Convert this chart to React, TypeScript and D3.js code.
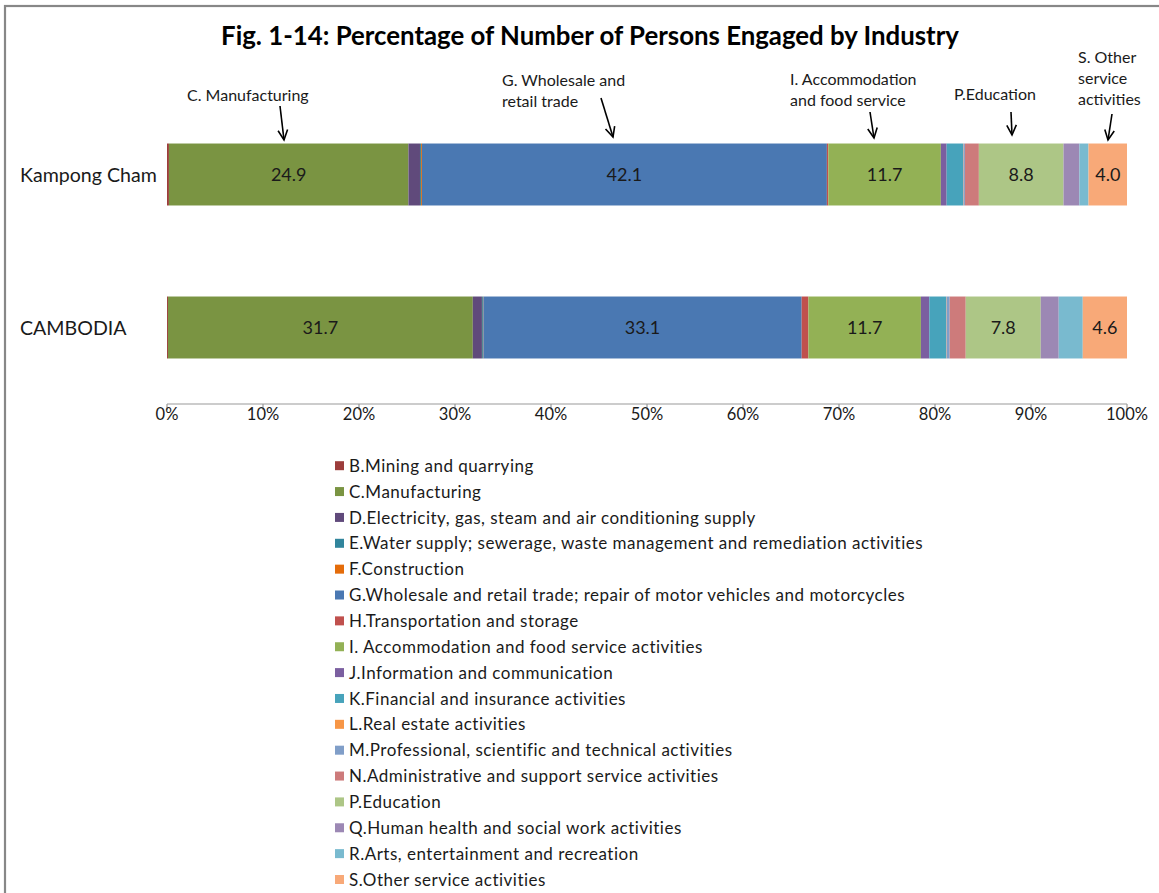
import * as d3 from 'd3'

// industry categories (legend order = stack order)
const industries = [
  'B.Mining and quarrying',
  'C.Manufacturing',
  'D.Electricity, gas, steam and air conditioning supply',
  'E.Water supply; sewerage, waste management and remediation activities',
  'F.Construction',
  'G.Wholesale and retail trade; repair of motor vehicles and motorcycles',
  'H.Transportation and storage',
  'I. Accommodation and food service activities',
  'J.Information and communication',
  'K.Financial and insurance activities',
  'L.Real estate activities',
  'M.Professional, scientific and technical activities',
  'N.Administrative and support service activities',
  'P.Education',
  'Q.Human health and social work activities',
  'R.Arts, entertainment and recreation',
  'S.Other service activities',
]

const colors = [
  '#9C3D3B', '#7A9442', '#604A7B', '#31859C', '#E46C0A', '#4A78B2', '#C0504D', '#93B155',
  '#7B5FA0', '#47A3BB', '#F79646', '#809EC8', '#CD7B7B', '#ADC686', '#9C88B4', '#79BACF', '#F8A978',
]

const regions = ['Kampong Cham', 'CAMBODIA']

// percent of persons engaged, same order as industries
const kampongCham = [0.2, 24.9, 1.2, 0.1, 0.1, 42.1, 0.15, 11.7, 0.6, 1.7, 0.05, 0.15, 1.45, 8.8, 1.65, 0.95, 4.0]
const cambodia = [0.1, 31.7, 0.95, 0.1, 0.05, 33.1, 0.7, 11.7, 0.87, 1.74, 0.05, 0.33, 1.67, 7.8, 1.87, 2.5, 4.6]

// only these segments carry a value label
const labelled = [1, 5, 7, 13, 16]

const xTicks = [0, 0.1, 0.2, 0.3, 0.4, 0.5, 0.6, 0.7, 0.8, 0.9, 1]

const FONT = 'Lato, "Open Sans", sans-serif'

export default function App() {
  const width = 1159
  const height = 893

  const rows = regions.map((r, ri) => {
    const vals = ri === 0 ? kampongCham : cambodia
    const row: Record<string, any> = { region: r }
    industries.forEach((k, i) => { row[k] = vals[i] })
    return row
  })

  const series = d3.stack<any>().keys(industries).offset(d3.stackOffsetExpand)(rows)

  const x = d3.scaleLinear().domain([0, 1]).range([167, 1127])
  const y = d3.scaleBand<string>().domain(regions).range([98, 404]).paddingInner(0.595).paddingOuter(0.2975)
  const color = d3.scaleOrdinal<string, string>().domain(industries).range(colors)

  const axisY = 404
  const legendY = d3.scaleLinear().domain([0, industries.length - 1]).range([465.7, 879.5])

  // annotation callouts above the first bar
  const notes = [
    { lines: ['C. Manufacturing'], tx: 187, ty: 101, from: [280, 106], to: [284, 140] },
    { lines: ['G. Wholesale and', 'retail trade'], tx: 502, ty: 86, from: [601, 98], to: [613, 137] },
    { lines: ['I. Accommodation', 'and food service'], tx: 790, ty: 85, from: [870, 112], to: [874, 138] },
    { lines: ['P.Education'], tx: 954, ty: 100, from: [1011, 112], to: [1012, 135] },
    { lines: ['S. Other', 'service', 'activities'], tx: 1078, ty: 63, from: [1112, 114], to: [1108, 140] },
  ]

  const arrowHead = (from: number[], to: number[]) => {
    const a = Math.atan2(to[1] - from[1], to[0] - from[0])
    const len = 11
    const spread = Math.PI / 7
    const p1 = [to[0] - len * Math.cos(a - spread), to[1] - len * Math.sin(a - spread)]
    const p2 = [to[0] - len * Math.cos(a + spread), to[1] - len * Math.sin(a + spread)]
    return `M${p1[0]},${p1[1]}L${to[0]},${to[1]}L${p2[0]},${p2[1]}`
  }

  return (
    <svg width={width} height={height} style={{ position: 'absolute', left: 0, top: 0, background: '#fff' }}
      fontFamily={FONT}>
      <rect x={0} y={0} width={width} height={height} fill="#fff" />
      {/* chart frame */}
      <rect x={5} y={6} width={width + 40} height={height + 40} fill="none" stroke="#878787" strokeWidth={2.2} />

      <text x={590} y={45} textAnchor="middle" fontSize={25.8} fontWeight={700} fill="#000">
        Fig. 1-14: Percentage of Number of Persons Engaged by Industry
      </text>

      {/* bars */}
      {series.map(s => (
        <g key={s.key} fill={color(s.key)}>
          {s.map((d, j) => (
            <rect key={j} x={x(d[0])} y={y(regions[j])!} width={Math.max(0, x(d[1]) - x(d[0]))}
              height={y.bandwidth()} />
          ))}
        </g>
      ))}

      {/* value labels */}
      {labelled.map(i => series[i].map((d, j) => (
        <text key={`${i}-${j}`} x={(x(d[0]) + x(d[1])) / 2} y={y(regions[j])! + y.bandwidth() / 2}
          dy="0.36em" textAnchor="middle" fontSize={18} fill="#1a1a1a">
          {(j === 0 ? kampongCham : cambodia)[i].toFixed(1)}
        </text>
      )))}

      {/* category labels */}
      {regions.map(r => (
        <text key={r} x={20} y={y(r)! + y.bandwidth() / 2} dy="0.36em" fontSize={19.6} fill="#1a1a1a">{r}</text>
      ))}

      {/* x axis */}
      <g stroke="#999" strokeWidth={1.2}>
        <line x1={x(0)} x2={x(1)} y1={axisY} y2={axisY} />
        {xTicks.map(t => <line key={t} x1={x(t)} x2={x(t)} y1={axisY} y2={axisY + 6} />)}
      </g>
      {xTicks.map(t => (
        <text key={t} x={x(t)} y={axisY + 10} dy="0.36em" textAnchor="middle" fontSize={16.5} fill="#1a1a1a">
          {d3.format('.0%')(t)}
        </text>
      ))}

      {/* annotations */}
      {notes.map((n, i) => (
        <g key={i}>
          {n.lines.map((l, k) => (
            <text key={k} x={n.tx} y={n.ty + k * 21} fontSize={16} fill="#1a1a1a">{l}</text>
          ))}
          <line x1={n.from[0]} y1={n.from[1]} x2={n.to[0]} y2={n.to[1]} stroke="#000" strokeWidth={1.6} />
          <path d={arrowHead(n.from, n.to)} fill="none" stroke="#000" strokeWidth={1.6} />
        </g>
      ))}

      {/* legend */}
      {industries.map((k, i) => (
        <g key={k} transform={`translate(335,${legendY(i)})`}>
          <rect x={0} y={-4.5} width={9} height={9} fill={color(k)} />
          <text x={14} y={0} dy="0.36em" fontSize={17} letterSpacing={0.5} fill="#1a1a1a">{k}</text>
        </g>
      ))}
    </svg>
  )
}
